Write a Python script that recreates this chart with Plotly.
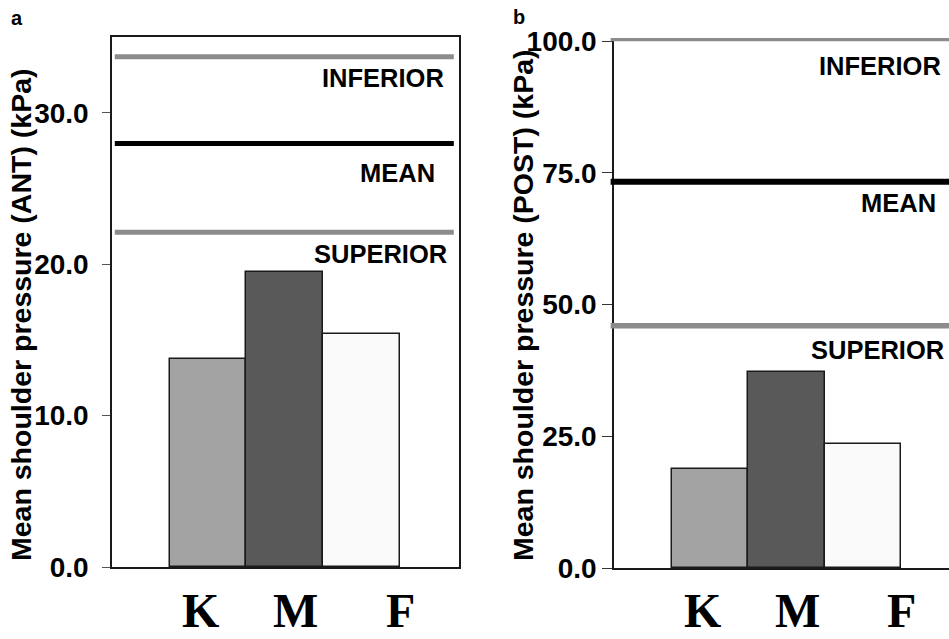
import plotly.graph_objects as go

# ---------------- data ----------------
groups = ["K", "M", "F"]
bar_colors = ["#a3a3a3", "#595959", "#fafafa"]

ant_values = [13.75, 19.5, 15.4]
ant_refs = {"INFERIOR": 33.7, "MEAN": 27.96, "SUPERIOR": 22.1}
ant_label_y = [32.3, 26.0, 20.7]
ant_ticks = [0, 10, 20, 30]
ant_ticktext = ["0.0", "10.0", "20.0", "30.0"]

post_values = [18.8, 37.2, 23.5]
post_refs = {"INFERIOR": 100.3, "MEAN": 73.3, "SUPERIOR": 46.0}
post_label_y = [95.3, 69.3, 41.4]
post_ticks = [0, 25, 50, 75, 100]
post_ticktext = ["0.0", "25.0", "50.0", "75.0", "100.0"]

group_label_pos = [-0.1, 1.14, 2.51]
ref_colors = {"INFERIOR": "#8c8c8c", "MEAN": "#000000", "SUPERIOR": "#8c8c8c"}

W, H = 949, 639
def px(x): return x / W
def py(y): return (H - y) / H

fig = go.Figure()
xpos = [0, 1, 2]
fig.add_trace(go.Bar(x=xpos, y=ant_values, width=1, marker=dict(color=bar_colors, line=dict(color="#1a1a1a", width=1.5)),
                     xaxis="x", yaxis="y", showlegend=False))
fig.add_trace(go.Bar(x=xpos, y=post_values, width=1, marker=dict(color=bar_colors, line=dict(color="#1a1a1a", width=1.5)),
                     xaxis="x2", yaxis="y2", showlegend=False))

tickfont = dict(family="Liberation Sans, Arial", size=28, color="black", weight="bold")

fig.update_layout(
    width=W, height=H, margin=dict(l=0, r=0, t=0, b=0, pad=0, autoexpand=False),
    paper_bgcolor="white", plot_bgcolor="white", bargap=0,
    xaxis=dict(domain=[px(112), px(459)], range=[-1.25, 3.27], showticklabels=False, ticks="", automargin=False,
               showgrid=False, zeroline=False, showline=True, linecolor="#1a1a1a", linewidth=1.5, mirror=True, anchor="y"),
    yaxis=dict(domain=[py(567), py(37)], range=[0, 35.0], tickvals=ant_ticks, ticktext=ant_ticktext, automargin=False,
               tickfont=tickfont, ticks="outside", ticklen=8, tickcolor="#555", ticklabelstandoff=8,
               showgrid=False, zeroline=False, showline=True, linecolor="#1a1a1a", linewidth=1.5, mirror=True, anchor="x"),
    xaxis2=dict(domain=[px(614), 1.0], range=[-1.26, 3.13], showticklabels=False, ticks="", automargin=False,
                showgrid=False, zeroline=False, showline=True, linecolor="#1a1a1a", linewidth=1.5, anchor="y2"),
    yaxis2=dict(domain=[py(568), py(38)], range=[0, 100.6], tickvals=post_ticks, ticktext=post_ticktext, automargin=False,
                tickfont=tickfont, ticks="outside", ticklen=10, tickcolor="#333", ticklabelstandoff=0,
                showgrid=False, zeroline=False, showline=True, linecolor="#1a1a1a", linewidth=1.5, anchor="x2"),
)

shapes = []
for name, val in ant_refs.items():
    shapes.append(dict(type="line", xref="x domain", yref="y", x0=0.008, x1=0.985, y0=val, y1=val,
                       line=dict(color=ref_colors[name], width=5)))
post_w = {"INFERIOR": 3.5, "MEAN": 6, "SUPERIOR": 5.5}
for name, val in post_refs.items():
    shapes.append(dict(type="line", xref="x2 domain", yref="y2", x0=-0.01, x1=1, y0=val, y1=val,
                       line=dict(color=ref_colors[name], width=post_w[name])))
fig.update_layout(shapes=shapes)

ann = []
labfont = dict(family="Liberation Sans, Arial", size=25.5, color="black", weight="bold")
ant_right = [446, 437, 449]
for (name, yv, xr) in zip(ant_refs.keys(), ant_label_y, ant_right):
    ann.append(dict(text=name, x=px(xr), xref="paper", xanchor="right", y=yv, yref="y", yanchor="middle",
                    showarrow=False, font=labfont))
post_right = [943, 938, 946]
for (name, yv, xr) in zip(post_refs.keys(), post_label_y, post_right):
    ann.append(dict(text=name, x=px(xr), xref="paper", xanchor="right", y=yv, yref="y2", yanchor="middle",
                    showarrow=False, font=labfont))

gfont = dict(family="Liberation Serif, Times New Roman", size=48, color="black", weight="bold")
for xr in ["x", "x2"]:
    for g, xv in zip(groups, group_label_pos):
        ann.append(dict(text=g, x=xv, xref=xr, y=0, yref="paper", yanchor="bottom",
                        showarrow=False, font=gfont))

titlefont = dict(family="Liberation Sans, Arial", size=28.5, color="black", weight="bold")
ann.append(dict(text="Mean shoulder pressure (ANT) (kPa)", x=px(21), xref="paper", y=py(315), yref="paper",
                textangle=-90, showarrow=False, font=titlefont, xanchor="center", yanchor="middle"))
ann.append(dict(text="Mean shoulder pressure (POST) (kPa)", x=px(523), xref="paper", y=py(305), yref="paper",
                textangle=-90, showarrow=False, font=titlefont, xanchor="center", yanchor="middle"))

pfont = dict(family="Liberation Sans, Arial", size=20, color="black", weight="bold")
ann.append(dict(text="a", x=px(17), y=py(18), xref="paper", yref="paper", showarrow=False, font=pfont,
                xanchor="center", yanchor="middle"))
ann.append(dict(text="b", x=px(519), y=py(17), xref="paper", yref="paper", showarrow=False, font=pfont,
                xanchor="center", yanchor="middle"))

fig.update_layout(annotations=ann)
fig.write_html("out.html")
